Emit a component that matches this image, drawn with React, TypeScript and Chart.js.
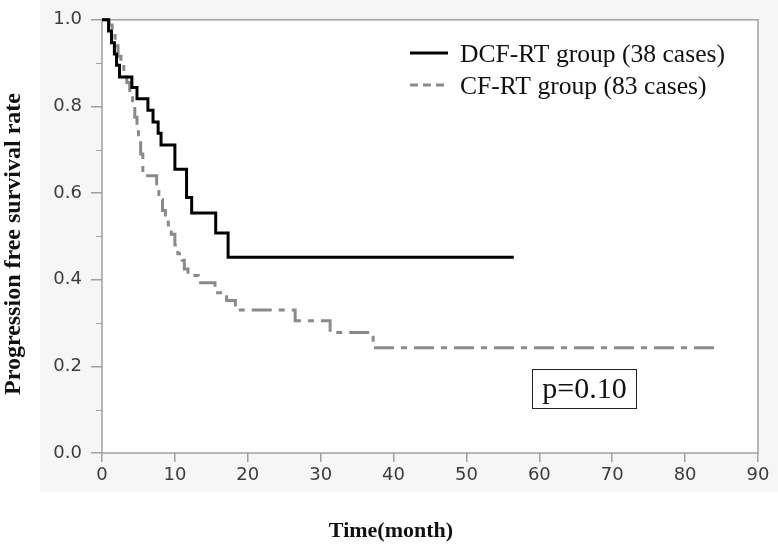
import React, { useEffect, useRef } from "react";
import { Chart, registerables } from "chart.js";

Chart.register(...registerables);

// DCF-RT group (38 cases): Kaplan-Meier steps (time in months, survival rate)
const dcfTimes = [0, 0.9, 1.3, 1.7, 2.0, 2.4, 4.1, 4.8, 6.3, 7.0, 7.7, 8.1, 10.0, 11.6, 12.3, 15.6, 17.3, 56.5];
const dcfSurvival = [1.0, 0.974, 0.947, 0.921, 0.895, 0.868, 0.844, 0.818, 0.791, 0.764, 0.738, 0.711, 0.655, 0.59, 0.554, 0.508, 0.452, 0.452];

// CF-RT group (83 cases)
const cfTimes = [0, 1.0, 1.4, 1.8, 2.2, 2.6, 3.0, 3.4, 3.8, 4.2, 4.5, 4.8, 5.0, 5.3, 5.6, 7.5, 7.8, 8.3, 8.7, 9.1, 9.5, 10.0, 10.4, 11.0, 11.3, 11.8, 13.2, 15.5, 17.1, 18.3, 26.5, 31.3, 37.2, 84.8];
const cfSurvival = [1.0, 0.988, 0.964, 0.94, 0.916, 0.892, 0.868, 0.855, 0.83, 0.8, 0.775, 0.755, 0.72, 0.69, 0.64, 0.61, 0.585, 0.56, 0.54, 0.52, 0.505, 0.48, 0.46, 0.445, 0.425, 0.41, 0.393, 0.37, 0.352, 0.33, 0.305, 0.278, 0.243, 0.243];

const seriesLabels = ["DCF-RT group (38 cases)", "CF-RT group (83 cases)"];
const yMinorTicks = [0.1, 0.3, 0.5, 0.7, 0.9];
const pValueText = "p=0.10";
const xTitle = "Time(month)";
const yTitle = "Progression free survival rate";

const zip = (t: number[], s: number[]) => t.map((x, i) => ({ x, y: s[i] }));

const GRAY = "#a0a0a0";
const CF_COLOR = "#8a8a8a";

export default function App() {
  const ref = useRef<HTMLCanvasElement>(null);

  useEffect(() => {
    const canvas = ref.current;
    if (!canvas) return;

    const decor = {
      id: "decor",
      beforeDraw(chart: any) {
        const { ctx, chartArea: a } = chart;
        ctx.save();
        ctx.fillStyle = "#ffffff";
        ctx.fillRect(0, 0, chart.width, chart.height);
        ctx.fillStyle = "#f6f6f6";
        ctx.fillRect(40, 0, chart.width - 40, 492);
        ctx.fillStyle = "#ffffff";
        ctx.fillRect(a.left, a.top, a.right - a.left, a.bottom - a.top);
        ctx.restore();
      },
      beforeDatasetsDraw(chart: any) {
        const { ctx, chartArea: a } = chart;
        const y = chart.scales.y;
        ctx.save();
        ctx.strokeStyle = GRAY;
        ctx.lineWidth = 1.5;
        ctx.strokeRect(a.left, a.top, a.right - a.left, a.bottom - a.top);
        ctx.beginPath();
        yMinorTicks.forEach((v) => {
          const py = Math.round(y.getPixelForValue(v)) + 0.5;
          ctx.moveTo(a.left - 6, py);
          ctx.lineTo(a.left, py);
        });
        ctx.lineWidth = 1.2;
        ctx.stroke();
        ctx.restore();
      },
      afterDraw(chart: any) {
        const { ctx } = chart;
        ctx.save();
        // legend
        ctx.lineWidth = 3;
        ctx.strokeStyle = "#000";
        ctx.setLineDash([]);
        ctx.beginPath();
        ctx.moveTo(410, 53);
        ctx.lineTo(448, 53);
        ctx.stroke();
        ctx.strokeStyle = CF_COLOR;
        ctx.setLineDash([8, 5]);
        ctx.beginPath();
        ctx.moveTo(410, 85);
        ctx.lineTo(448, 85);
        ctx.stroke();
        ctx.setLineDash([]);
        ctx.fillStyle = "#111";
        ctx.font = "25.6px 'Liberation Serif', 'Times New Roman', serif";
        ctx.textAlign = "left";
        ctx.textBaseline = "middle";
        ctx.fillText(seriesLabels[0], 460, 55);
        ctx.fillText(seriesLabels[1], 460, 87);

        // p value box
        ctx.strokeStyle = "#222";
        ctx.lineWidth = 1;
        ctx.strokeRect(532.5, 369.5, 104, 39);
        ctx.font = "30px 'Liberation Serif', 'Times New Roman', serif";
        ctx.textAlign = "center";
        ctx.fillText(pValueText, 584.5, 390);

        // axis titles
        ctx.font = "bold 22px 'Liberation Serif', 'Times New Roman', serif";
        ctx.fillText(xTitle, 391, 531);
        ctx.translate(14, 244);
        ctx.rotate(-Math.PI / 2);
        ctx.font = "bold 24px 'Liberation Serif', 'Times New Roman', serif";
        ctx.fillText(yTitle, 0, 0);
        ctx.restore();
      },
    };

    const tickFont = { family: "'DejaVu Sans', Verdana, sans-serif", size: 18 };

    const chart = new Chart(canvas, {
      type: "line",
      data: {
        datasets: [
          {
            label: seriesLabels[0],
            data: zip(dcfTimes, dcfSurvival),
            borderColor: "#000000",
            borderWidth: 3,
            stepped: "before",
            pointRadius: 0,
            fill: false,
            clip: 6,
          },
          {
            label: seriesLabels[1],
            data: zip(cfTimes, cfSurvival),
            borderColor: CF_COLOR,
            borderWidth: 3,
            borderDash: [20, 7, 6, 7],
            stepped: "before",
            pointRadius: 0,
            fill: false,
            clip: 6,
          },
        ],
      },
      options: {
        animation: false,
        responsive: false,
        layout: { padding: { left: 0, right: 20, top: 13, bottom: 0 } },
        plugins: { legend: { display: false }, tooltip: { enabled: false } },
        scales: {
          x: {
            type: "linear",
            min: 0,
            max: 90,
            afterFit: (s: any) => {
              s.height = 98;
            },
            ticks: { stepSize: 10, font: tickFont, color: "#3c3c3c", padding: 3, maxRotation: 0 },
            grid: { drawOnChartArea: false, color: GRAY, lineWidth: 1.5, tickLength: 9 },
            border: { display: false },
          },
          y: {
            type: "linear",
            min: 0,
            max: 1,
            afterFit: (s: any) => {
              s.width = 102;
            },
            ticks: {
              stepSize: 0.2,
              font: tickFont,
              color: "#3c3c3c",
              padding: 9,
              callback: (v: any) => Number(v).toFixed(1),
            },
            grid: { drawOnChartArea: false, color: GRAY, lineWidth: 1.5, tickLength: 11 },
            border: { display: false },
          },
        },
      },
      plugins: [decor],
    } as any);

    return () => chart.destroy();
  }, []);

  return (
    <div style={{ position: "absolute", left: 0, top: 0, width: 778, height: 551 }}>
      <canvas ref={ref} width={778} height={551} style={{ width: 778, height: 551 }} />
    </div>
  );
}
